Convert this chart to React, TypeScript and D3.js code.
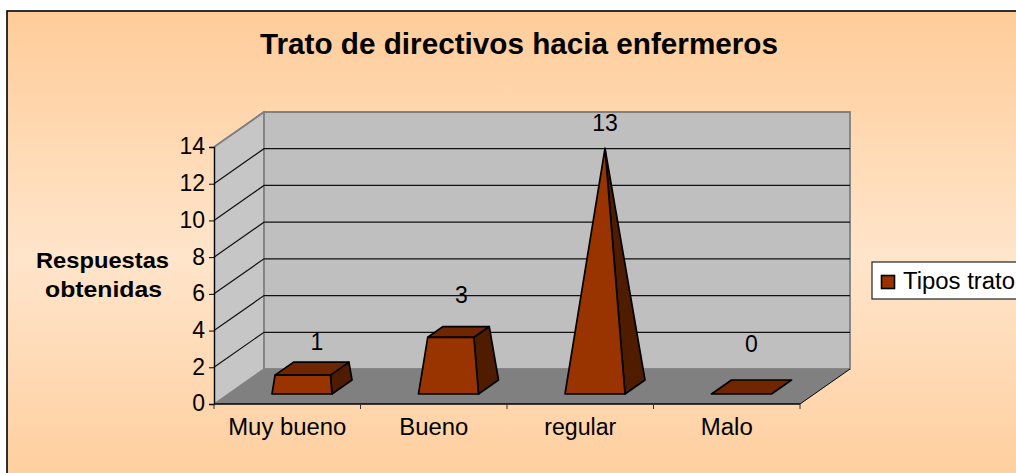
import React, { useEffect, useRef } from 'react';
import * as d3 from 'd3';

const categories = ['Muy bueno', 'Bueno', 'regular', 'Malo'];
const responses = [1, 3, 13, 0];
const yTicks = [0, 2, 4, 6, 8, 10, 12, 14];
const yTitleLines = ['Respuestas', 'obtenidas'];
const chartTitle = 'Trato de directivos hacia enfermeros';
const seriesName = 'Tipos trato';

const WIDTH = 1016;
const HEIGHT = 473;
const FONT = '"Liberation Sans", Arial, sans-serif';
const FONT_SIZE = 23;

// floor depth of the fake 3D box, and where the bars sit inside it
const DEPTH = { x: 50, y: -35 };
const BAR_OFFSET = 0.286;
const BAR_DEPTH = 0.4;
const BAR_WIDTH = 60;
const BAR_INSET = 58;

// labels in the original are not placed very regularly
const LABEL_NUDGE = [
  [5, -19],
  [3, -29],
  [0, -17],
  [0, -35],
];

const App = () => {
  const svgRef = useRef<SVGSVGElement>(null);

  useEffect(() => {
    const svg = d3.select(svgRef.current);
    svg.selectAll('*').remove();

    const yScale = d3.scaleLinear().domain([0, 14]).range([404, 147]);
    const xScale = d3.scaleBand().domain(categories).range([214, 800]);
    const floorY = yScale(0);
    const frontX = xScale.range()[0];
    const endX = xScale.range()[1];
    const line = d3.line();

    const gradient = svg
      .append('defs')
      .append('linearGradient')
      .attr('id', 'bg')
      .attr('x1', 0)
      .attr('x2', 0)
      .attr('y1', 0)
      .attr('y2', 1);
    gradient.append('stop').attr('offset', '0%').attr('stop-color', '#ffcc99');
    gradient.append('stop').attr('offset', '50%').attr('stop-color', '#ffe5cb');
    gradient.append('stop').attr('offset', '100%').attr('stop-color', '#ffcc99');

    svg.append('rect').attr('width', WIDTH).attr('height', HEIGHT).attr('fill', '#fff');
    svg
      .append('rect')
      .attr('x', 7)
      .attr('y', 11)
      .attr('width', WIDTH + 20)
      .attr('height', HEIGHT + 20)
      .attr('fill', 'url(#bg)')
      .attr('stroke', '#000')
      .attr('stroke-width', 1.6);

    const addText = (text: string, x: number, y: number, opts: any = {}) => {
      const t = svg
        .append('text')
        .attr('x', x)
        .attr('y', y)
        .attr('font-family', FONT)
        .attr('font-size', opts.size ?? FONT_SIZE)
        .attr('font-weight', opts.weight ?? 'normal')
        .attr('text-anchor', opts.anchor ?? 'start')
        .attr('fill', '#000')
        .text(text);
      if (opts.length) {
        t.attr('textLength', opts.length).attr('lengthAdjust', 'spacingAndGlyphs');
      }
      return t;
    };

    addText(chartTitle, 260, 54, { size: 29, weight: 'bold', length: 518 });
    addText(yTitleLines[0], 36, 268, { weight: 'bold', size: 22, length: 133 });
    addText(yTitleLines[1], 45, 297, { weight: 'bold', size: 22, length: 117 });

    // walls and floor
    const box = svg.append('g');
    box
      .append('path')
      .attr(
        'd',
        line([
          [frontX + DEPTH.x, floorY + DEPTH.y],
          [endX + DEPTH.x, floorY + DEPTH.y],
          [endX, floorY],
          [frontX, floorY],
        ])
      )
      .attr('fill', '#808080');
    box
      .append('path')
      .attr(
        'd',
        line([
          [frontX, yScale(14)],
          [frontX + DEPTH.x, yScale(14) + DEPTH.y],
          [frontX + DEPTH.x, floorY + DEPTH.y],
          [frontX, floorY],
        ])
      )
      .attr('fill', '#c6c6c6')
      .attr('stroke', '#808080')
      .attr('stroke-width', 1.5);
    box
      .append('rect')
      .attr('x', frontX + DEPTH.x)
      .attr('y', yScale(14) + DEPTH.y)
      .attr('width', endX - frontX)
      .attr('height', floorY - yScale(14))
      .attr('fill', '#bfbfbf')
      .attr('stroke', '#808080')
      .attr('stroke-width', 1.8);
    box
      .append('path')
      .attr(
        'd',
        line([
          [endX + DEPTH.x, floorY + DEPTH.y],
          [endX, floorY],
        ])
      )
      .attr('stroke', '#000')
      .attr('stroke-width', 1);

    // gridlines, wall part then back part
    yTicks.slice(1, -1).concat(14).forEach((v) => {
      const y = yScale(v);
      box
        .append('path')
        .attr(
          'd',
          line([
            [frontX, y],
            [frontX + DEPTH.x, y + DEPTH.y],
            [endX + DEPTH.x, y + DEPTH.y],
          ])
        )
        .attr('fill', 'none')
        .attr('stroke', v === 14 ? '#808080' : '#111')
        .attr('stroke-width', v === 14 ? 1.8 : 1.2);
    });

    // axes
    const yAxis = d3.axisLeft(yScale).tickValues(yTicks).tickSize(5).tickPadding(4);
    const yAxisGroup = svg.append('g').attr('transform', `translate(${frontX}, 0)`).call(yAxis);
    yAxisGroup.select('.domain').attr('stroke-width', 1.4);
    yAxisGroup
      .selectAll('text')
      .attr('font-family', FONT)
      .attr('font-size', FONT_SIZE)
      .attr('fill', '#000')
      .attr('dy', '0.3em');

    svg
      .append('line')
      .attr('x1', frontX)
      .attr('x2', endX)
      .attr('y1', floorY)
      .attr('y2', floorY)
      .attr('stroke', '#000')
      .attr('stroke-width', 1.5);

    const edges = categories.map((c) => xScale(c) as number).concat(endX);
    edges.forEach((x) => {
      svg
        .append('line')
        .attr('x1', x)
        .attr('x2', x)
        .attr('y1', floorY)
        .attr('y2', floorY + 5)
        .attr('stroke', '#333')
        .attr('stroke-width', 1);
    });

    categories.forEach((c) => {
      const x = (xScale(c) as number) + xScale.bandwidth() / 2;
      const w = c === 'Muy bueno' ? 118 : c === 'Bueno' ? 69 : c === 'regular' ? 72 : 52;
      addText(c, x - w / 2, 435, { length: w });
    });

    // pyramids: base corners slide towards the apex, cut off at the value
    const maxValue = d3.max(responses) as number;
    const unit = yScale(0) - yScale(1);
    responses.forEach((value, i) => {
      const left = (xScale(categories[i]) as number) + BAR_INSET;
      const baseY = floorY + DEPTH.y * BAR_OFFSET;
      const d = { x: DEPTH.x * BAR_DEPTH, y: DEPTH.y * BAR_DEPTH };
      const centre: [number, number] = [left + BAR_WIDTH / 2 + d.x / 2, baseY + d.y / 2];
      const apex: [number, number] = [centre[0], centre[1] - maxValue * unit];
      const t = value / maxValue;
      const corner = (x: number, y: number): [number, number] => [
        x + (apex[0] - x) * t,
        y + (apex[1] - y) * t,
      ];
      const fl: [number, number] = [left, baseY];
      const fr: [number, number] = [left + BAR_WIDTH, baseY];
      const br: [number, number] = [left + BAR_WIDTH + d.x, baseY + d.y];
      const bl: [number, number] = [left + d.x, baseY + d.y];
      const tfl = corner(...fl);
      const tfr = corner(...fr);
      const tbr = corner(...br);
      const tbl = corner(...bl);

      const face = (pts: [number, number][], fill: string) =>
        svg
          .append('path')
          .attr('d', line(pts) + 'Z')
          .attr('fill', fill)
          .attr('stroke', '#000')
          .attr('stroke-width', 1.7)
          .attr('stroke-linejoin', 'round');

      if (value > 0) {
        face([fr, br, tbr, tfr], '#4f1c00');
      }
      face([tfl, tfr, tbr, tbl], '#702600');
      if (value > 0) {
        face([fl, fr, tfr, tfl], '#993300');
      }

      const [nx, ny] = LABEL_NUDGE[i];
      addText(String(value), centre[0] + nx, centre[1] - value * unit + ny, { anchor: 'middle' });
    });

    // legend runs off the right side in the original
    svg
      .append('rect')
      .attr('x', 872)
      .attr('y', 262)
      .attr('width', 200)
      .attr('height', 37)
      .attr('fill', '#fff')
      .attr('stroke', '#222')
      .attr('stroke-width', 1.2);
    svg
      .append('rect')
      .attr('x', 881.5)
      .attr('y', 275.5)
      .attr('width', 13)
      .attr('height', 13)
      .attr('fill', '#993300')
      .attr('stroke', '#000')
      .attr('stroke-width', 1.6);
    addText(seriesName, 903, 289, { length: 112 });
  }, []);

  return (
    <svg
      ref={svgRef}
      width={WIDTH}
      height={HEIGHT}
      style={{ position: 'absolute', left: 0, top: 0, display: 'block' }}
    />
  );
};

export default App;
